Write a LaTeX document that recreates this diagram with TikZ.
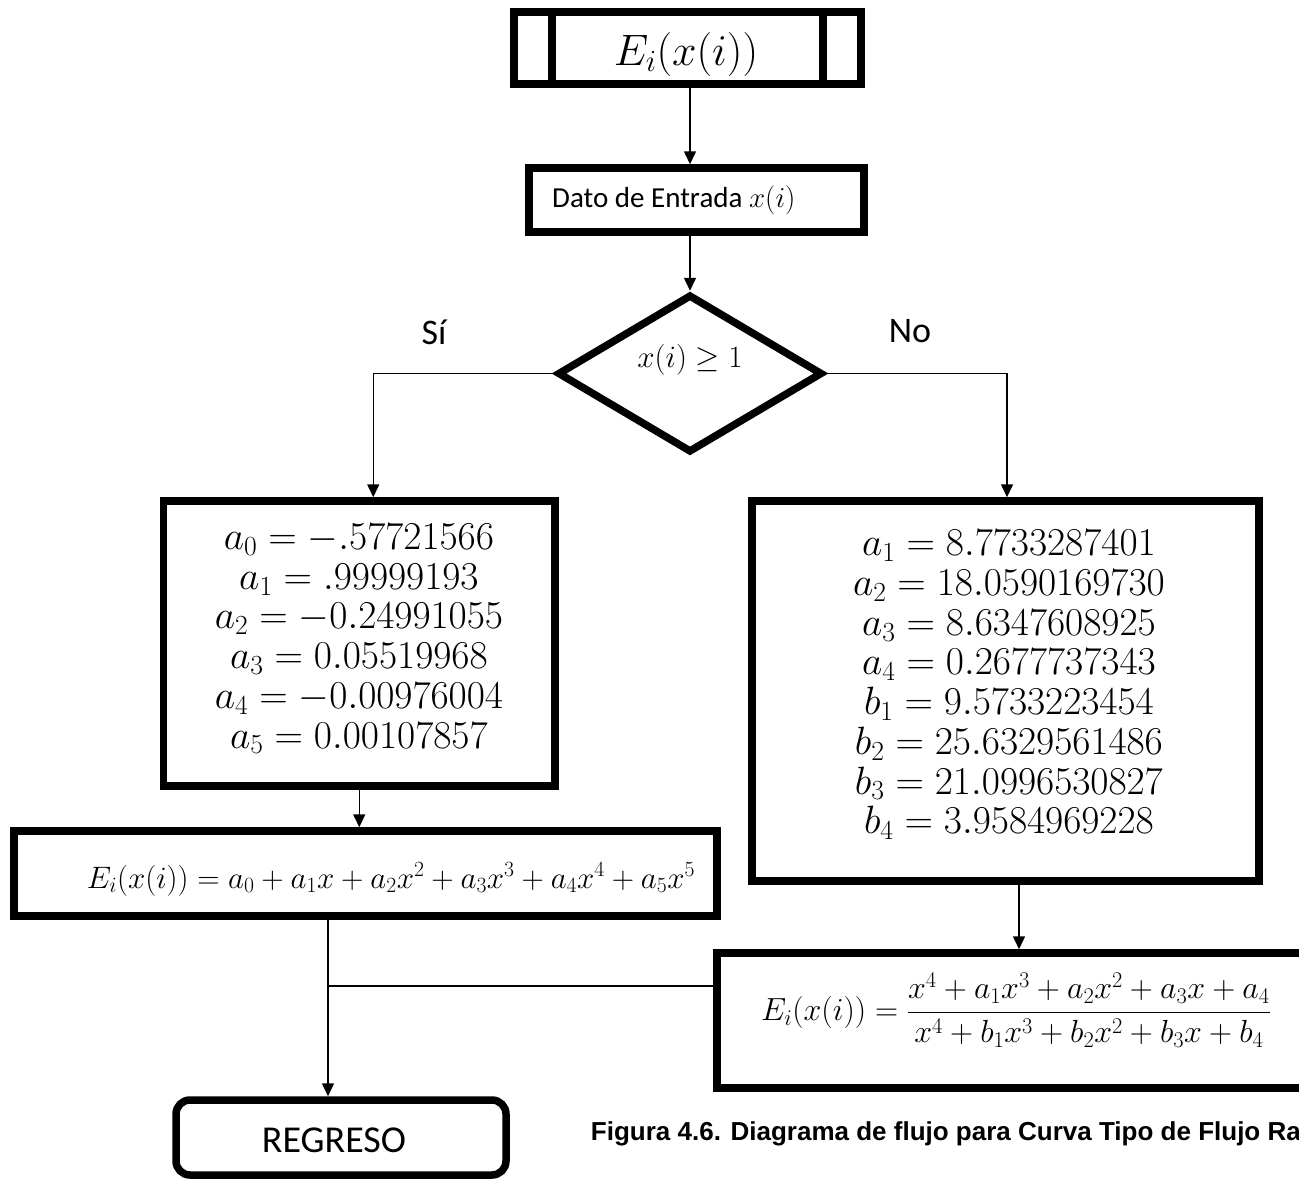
\documentclass[tikz,border=0pt]{standalone}
\usepackage{fix-cm}
\usepackage[no-math]{fontspec}
\setmainfont{Carlito}
\newfontfamily\capfont{Liberation Sans}
\usetikzlibrary{shapes.geometric,arrows.meta,calc}
\begin{document}
\begin{tikzpicture}[x=1pt,y=-1pt,
  boxs/.style={draw, rectangle, line width=7.5pt, inner sep=0pt},
  arr/.style={line width=1.5pt, -{Triangle[width=12pt,length=13pt]}},
  conn/.style={line width=1.5pt},
  mtxt/.style={inner sep=0pt, align=center, font=\fontsize{39.5}{39.7}\selectfont},
  ftxt/.style={inner sep=0pt, font=\fontsize{31}{33}\selectfont},
  lbl/.style={inner sep=0pt, font=\fontsize{36}{38}\selectfont}]
\clip (0,0) rectangle (1299,1179);
\fill[white] (0,0) rectangle (1299,1179);

% top box
\node[boxs, minimum width=347pt, minimum height=72pt] (top) at (687.5,48) {};
\draw[line width=7.5pt] ($(top.north west)+(41.75,0)$) -- ($(top.south west)+(41.75,0)$);
\draw[line width=7.5pt] ($(top.north east)+(-41.75,0)$) -- ($(top.south east)+(-41.75,0)$);
\node[inner sep=0pt, font=\fontsize{44}{48}\selectfont] (toptxt) at (686,54) {$E_i(x(i))$};

% input box
\node[boxs, minimum width=335pt, minimum height=64pt] (dato) at (696.5,200) {};
\node[anchor=base west, inner sep=0pt, font=\fontsize{29}{31}\selectfont] (datot) at (552,207) {Dato de Entrada $x(i)$};

% decision
\node[draw, diamond, line width=7.5pt, inner sep=0pt, minimum width=265pt, minimum height=158pt] (dia) at (690,373.5) {};
\node[ftxt] (diat) at (690,360) {$x(i) \geq 1$};
\node[lbl] (si) at (434,332) {Sí};
\node[lbl] (no) at (910,331) {No};

% left coefficients box
\node[boxs, minimum width=391.5pt, minimum height=285pt] (lb) at (359.25,643.5) {};
\node[mtxt] (lbt) at (359,639) {$a_0 = -.57721566$\\ $a_1 = .99999193$\\ $a_2 = -0.24991055$\\ $a_3 = 0.05519968$\\ $a_4 = -0.00976004$\\ $a_5 = 0.00107857$};

% right coefficients box
\node[boxs, minimum width=507pt, minimum height=380pt] (rb) at (1005.5,691) {};
\node[mtxt] (rbt) at (1009,685) {$a_1 = 8.7733287401$\\ $a_2 = 18.0590169730$\\ $a_3 = 8.6347608925$\\ $a_4 = 0.2677737343$\\ $b_1 = 9.5733223454$\\ $b_2 = 25.6329561486$\\ $b_3 = 21.0996530827$\\ $b_4 = 3.9584969228$};

% formula boxes
\node[boxs, minimum width=703pt, minimum height=85pt] (f1) at (365.5,873.5) {};
\node[ftxt, anchor=base] (f1t) at (391,888) {$E_i(x(i)) = a_0 + a_1x + a_2x^2 + a_3x^3 + a_4x^4 + a_5x^5$};

\node[boxs, minimum width=598pt, minimum height=135pt] (f2) at (1016,1020.5) {};
\node[inner sep=0pt, font=\fontsize{32}{34}\selectfont] (f2t) at (1016,1010) {$E_i(x(i)) = \displaystyle\frac{x^4 + a_1x^3 + a_2x^2 + a_3x + a_4}{x^4 + b_1x^3 + b_2x^2 + b_3x + b_4}$};

% return
\node[boxs, rounded corners=14pt, minimum width=330pt, minimum height=75pt] (reg) at (341,1137.5) {};
\node[inner sep=0pt, font=\fontsize{38}{40}\selectfont] (regt) at (334,1140) {REGRESO};

% caption
\node[anchor=base east, inner sep=0pt, font=\fontsize{26}{29}\selectfont\capfont\bfseries] (cap) at (1301,1140) {Figura 4.6. Diagrama de flujo para Curva Tipo de Flujo Ra};

% connectors
\draw[arr] (top.south -| dia.north) -- (dato.north -| dia.north);
\draw[arr] (dato.south -| dia.north) -- (dia.north);
\draw[arr] (dia.west) -| ($(lb.north)+(14,0)$);
\draw[arr] (dia.east) -| ($(rb.north)+(1.5,0)$);
\draw[arr] (lb.south) -- (lb.south |- f1.north);
\coordinate (rbo) at ($(rb.south)+(13.5,0)$);
\draw[arr] (rbo) -- (rbo |- f2.north);
\coordinate (f1o) at ($(f1.south)+(-37.5,0)$);
\draw[arr] (f1o) -- (f1o |- reg.north);
\coordinate (j) at (328,986);
\draw[conn] (j -| f2.west) -- (j);
\end{tikzpicture}
\end{document}
